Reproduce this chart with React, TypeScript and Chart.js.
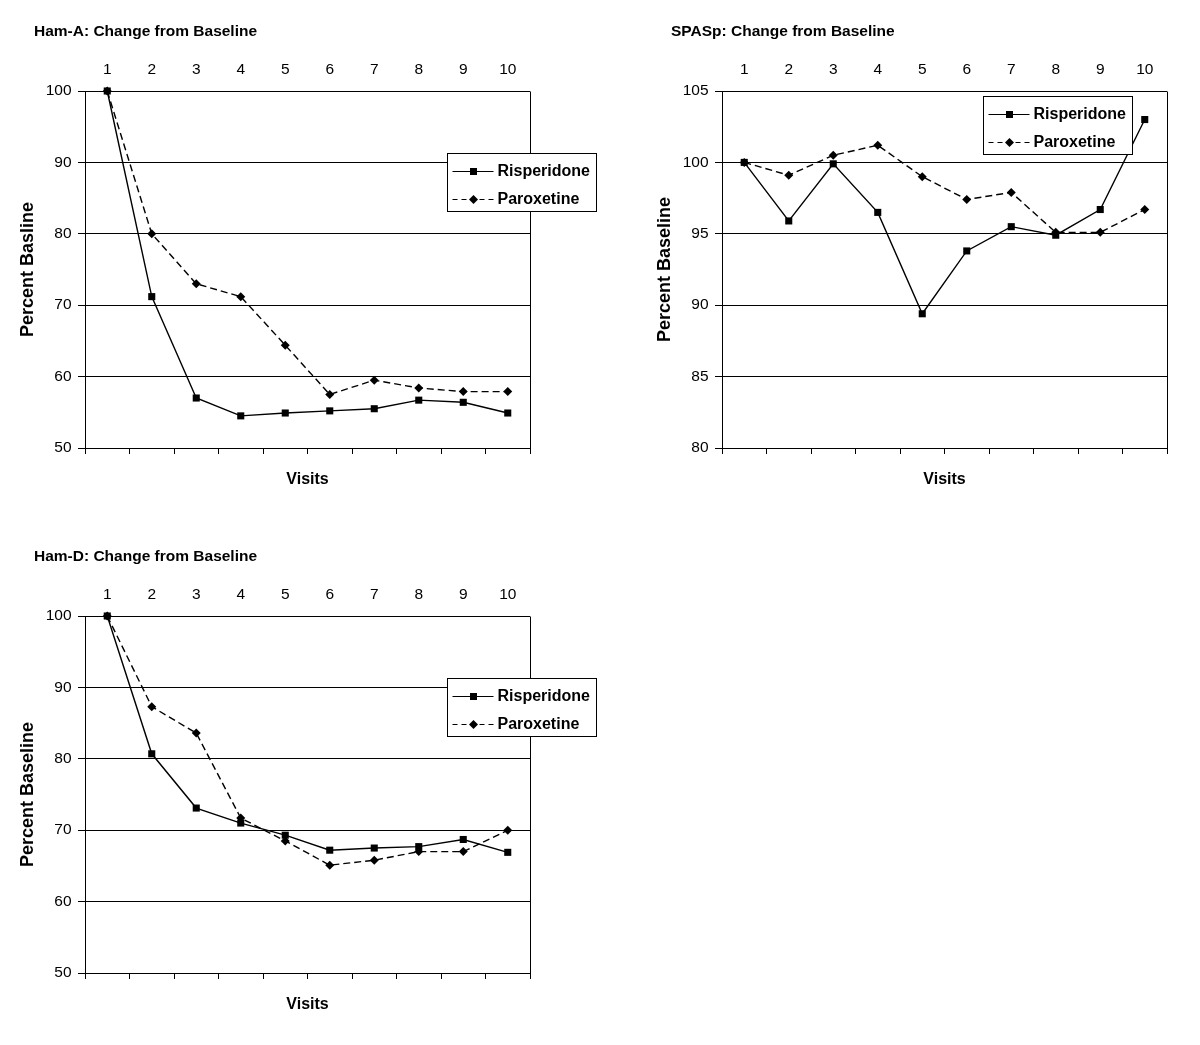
import React, { useEffect, useRef } from 'react';
import { Chart, registerables } from 'chart.js';

Chart.register(...registerables);

// ---------- data ----------
const visits = ['1', '2', '3', '4', '5', '6', '7', '8', '9', '10'];
const seriesNames = ['Risperidone', 'Paroxetine'];

const hamARisperidone = [100, 71.2, 57.0, 54.5, 54.9, 55.2, 55.5, 56.7, 56.4, 54.9];
const hamAParoxetine = [100, 80.0, 73.0, 71.2, 64.4, 57.5, 59.5, 58.4, 57.9, 57.9];

const spaspRisperidone = [100, 95.9, 99.9, 96.5, 89.4, 93.8, 95.5, 94.9, 96.7, 103.0];
const spaspParoxetine = [100, 99.1, 100.5, 101.2, 99.0, 97.4, 97.9, 95.1, 95.1, 96.7];

const hamDRisperidone = [100, 80.7, 73.1, 71.0, 69.3, 67.2, 67.5, 67.7, 68.7, 66.9];
const hamDParoxetine = [100, 87.3, 83.6, 71.7, 68.5, 65.1, 65.8, 67.0, 67.0, 70.0];

const hamTicks = [50, 60, 70, 80, 90, 100];
const spaspTicks = [80, 85, 90, 95, 100, 105];

const titles = ['Ham-A: Change from Baseline', 'SPASp: Change from Baseline', 'Ham-D: Change from Baseline'];
const yTitles = ['Percent Basline', 'Percent Baseline', 'Percent Baseline'];
const xTitle = 'Visits';

const FONT = "'Liberation Sans', Arial, Helvetica, sans-serif";

const decorPlugin = {
  id: 'panelDecor',
  afterDraw(chart: any, _args: any, opts: any) {
    const { ctx, chartArea } = chart;
    ctx.save();
    // right frame line
    ctx.strokeStyle = '#000';
    ctx.lineWidth = 1;
    const xr = Math.round(chartArea.right - 0.5) + 0.5;
    ctx.beginPath();
    ctx.moveTo(xr, Math.round(chartArea.top - 0.5) + 0.5);
    ctx.lineTo(xr, Math.round(chartArea.bottom - 0.5) + 0.5);
    ctx.stroke();

    // title
    ctx.fillStyle = '#000';
    ctx.font = `bold 15.5px ${FONT}`;
    ctx.textBaseline = 'middle';
    ctx.textAlign = 'left';
    ctx.fillText(opts.title, 34, 32);

    // legend
    const bx = Math.round(chartArea.left + opts.legendDx) + 0.5;
    const by = Math.round(chartArea.top + opts.legendDy) + 0.5;
    const bw = 149;
    const bh = 58;
    ctx.fillStyle = '#fff';
    ctx.fillRect(bx, by, bw, bh);
    ctx.strokeStyle = '#000';
    ctx.lineWidth = 1;
    ctx.strokeRect(bx, by, bw, bh);
    const rows = [17, 45.5];
    chart.data.datasets.forEach((ds: any, i: number) => {
      const cy = Math.round(by + rows[i]) + 0.5;
      ctx.save();
      ctx.strokeStyle = '#000';
      ctx.lineWidth = 1.2;
      ctx.setLineDash(ds.borderDash ? [5, 4] : []);
      ctx.beginPath();
      ctx.moveTo(bx + 5, cy);
      ctx.lineTo(bx + 46, cy);
      ctx.stroke();
      ctx.restore();
      ctx.fillStyle = '#000';
      const mx = bx + 26;
      ctx.beginPath();
      if (ds.pointStyle === 'rect') {
        ctx.rect(mx - 3.5, cy - 3.5, 7, 7);
      } else {
        const r = ds.pointRadius;
        ctx.moveTo(mx, cy - r);
        ctx.lineTo(mx + r, cy);
        ctx.lineTo(mx, cy + r);
        ctx.lineTo(mx - r, cy);
        ctx.closePath();
      }
      ctx.fill();
      ctx.font = `bold 16px ${FONT}`;
      ctx.textBaseline = 'middle';
      ctx.textAlign = 'left';
      ctx.fillText(ds.label, bx + 50, cy + 0.5);
    });
    ctx.restore();
  },
};

type PanelProps = {
  title: string;
  yTitle: string;
  risp: number[];
  parox: number[];
  ticks: number[];
  left: number;
  top: number;
  width: number;
  legendDx: number;
  legendDy: number;
};

function Panel({ title, yTitle, risp, parox, ticks, left, top, width, legendDx, legendDy }: PanelProps) {
  const ref = useRef<HTMLCanvasElement>(null);
  useEffect(() => {
    const tickFont = { family: FONT, size: 15.5 };
    const chart = new Chart(ref.current as HTMLCanvasElement, {
      type: 'line',
      data: {
        labels: visits,
        datasets: [
          {
            label: seriesNames[0],
            data: risp,
            borderColor: '#000',
            backgroundColor: '#000',
            borderWidth: 1.4,
            pointStyle: 'rect',
            pointRadius: 5,
            pointBorderWidth: 0,
            pointBackgroundColor: '#000',
            tension: 0,
            clip: false,
          } as any,
          {
            label: seriesNames[1],
            data: parox,
            borderColor: '#000',
            backgroundColor: '#000',
            borderWidth: 1.4,
            borderDash: [7, 4],
            pointStyle: 'rectRot',
            pointRadius: 4.5,
            pointBorderWidth: 0,
            pointBackgroundColor: '#000',
            tension: 0,
            clip: false,
          } as any,
        ],
      },
      options: {
        responsive: false,
        animation: false,
        layout: { padding: { left: 0, top: 60, right: width - 530, bottom: 11 } },
        plugins: {
          legend: { display: false },
          tooltip: { enabled: false },
          title: { display: false },
          panelDecor: { title, legendDx, legendDy },
        } as any,
        scales: {
          x: {
            type: 'category',
            position: 'top',
            offset: true,
            grid: { display: false, drawTicks: false },
            border: { display: false },
            ticks: { font: tickFont, color: '#000', padding: 11.5, maxRotation: 0, autoSkip: false },
            afterFit: (s: any) => {
              s.height = 31;
            },
          },
          x2: {
            type: 'category',
            labels: visits,
            position: 'bottom',
            offset: true,
            grid: { offset: true, drawOnChartArea: false, tickLength: 6, color: '#000', lineWidth: 1 },
            border: { display: true, color: '#000', width: 1 },
            ticks: { display: false },
            title: {
              display: true,
              text: xTitle,
              color: '#000',
              font: { family: FONT, size: 16, weight: 'bold' },
              padding: { top: 15, bottom: 0 },
            },
            afterFit: (s: any) => {
              s.height = 41;
            },
          },
          y: {
            type: 'linear',
            position: 'left',
            min: ticks[0],
            max: ticks[ticks.length - 1],
            ticks: {
              stepSize: ticks[1] - ticks[0],
              font: tickFont,
              color: '#000',
              padding: 6.5,
            },
            grid: { color: '#000', lineWidth: 1, tickLength: 7 },
            border: { display: true, color: '#000', width: 1 },
            title: {
              display: true,
              text: yTitle,
              color: '#000',
              font: { family: FONT, size: 18, weight: 'bold' },
              padding: { top: 17.5, bottom: 0 },
            },
            afterFit: (s: any) => {
              s.width = 85;
            },
          },
        } as any,
      },
      plugins: [decorPlugin as any],
    });
    return () => chart.destroy();
  }, []);
  return (
    <canvas
      ref={ref}
      width={width}
      height={500}
      style={{ position: 'absolute', left, top, width, height: 500 }}
    />
  );
}

export default function App() {
  return (
    <div
      style={{
        position: 'absolute',
        left: 0,
        top: 0,
        width: 1200,
        height: 1045,
        background: '#fff',
        overflow: 'hidden',
      }}
    >
      <Panel
        title={titles[0]}
        yTitle={yTitles[0]}
        risp={hamARisperidone}
        parox={hamAParoxetine}
        ticks={hamTicks}
        left={0}
        top={0}
        width={600}
        legendDx={362}
        legendDy={62}
      />
      <Panel
        title={titles[1]}
        yTitle={yTitles[1]}
        risp={spaspRisperidone}
        parox={spaspParoxetine}
        ticks={spaspTicks}
        left={637}
        top={0}
        width={563}
        legendDx={261}
        legendDy={5}
      />
      <Panel
        title={titles[2]}
        yTitle={yTitles[2]}
        risp={hamDRisperidone}
        parox={hamDParoxetine}
        ticks={hamTicks}
        left={0}
        top={525}
        width={600}
        legendDx={362}
        legendDy={62}
      />
    </div>
  );
}
